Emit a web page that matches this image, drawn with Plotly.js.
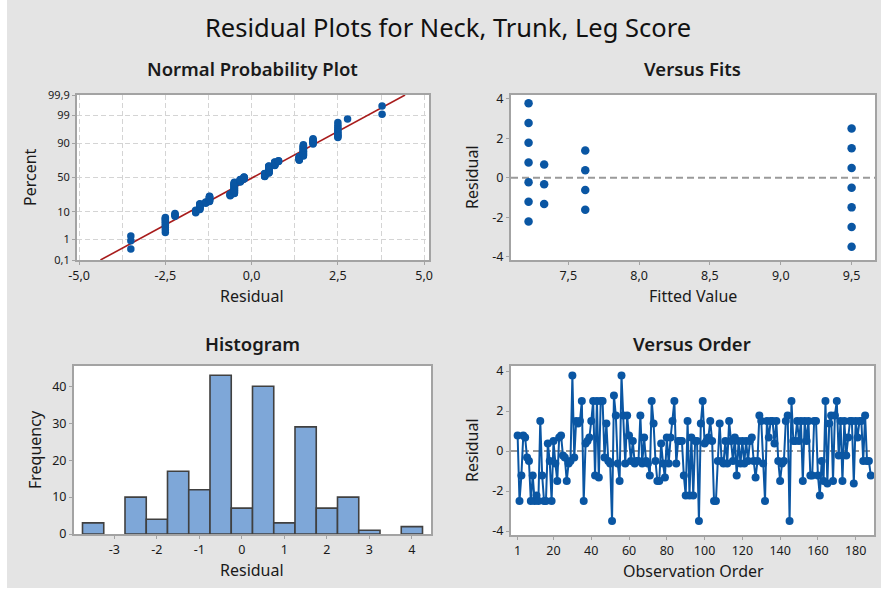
<!DOCTYPE html>
<html><head><meta charset="utf-8">
<script src="https://cdn.plot.ly/plotly-3.0.1.min.js"></script>
<style>html,body{margin:0;padding:0;background:#ffffff;} #chart{width:881px;height:592px;}</style>
</head><body><div id="chart"></div>
<script>
// ---------------- DATA ----------------
const mainTitle = "Residual Plots for Neck, Trunk, Leg Score";
// distinct residual levels, how many observations have each, and the fitted value they belong to
const residualLevels = [-3.5,-2.5,-2.22,-1.62,-1.5,-1.33,-1.22,-0.62,-0.5,-0.33,-0.22,0.38,0.5,0.67,0.78,1.38,1.5,1.78,2.5,2.78,3.78];
const levelCounts    = [3,10,4,4,10,3,12,5,30,8,7,10,20,10,3,9,20,7,10,1,2];
const levelFitted    = [9.5,9.5,7.22,7.62,9.5,7.33,7.22,7.62,9.5,7.33,7.22,7.62,9.5,7.33,7.22,7.62,9.5,7.22,9.5,7.22,7.22];
// residuals in observation order (1..188)
const orderResiduals = [
 0.78,-2.5,-1.22,0.78,0.67,-0.33,-0.5,-2.5,-1.22,-2.5,
 -2.22,-2.5,1.5,-1.22,-2.5,-2.5,0.38,-0.5,-2.5,0.5,
 -0.62,-1.5,0.67,0.78,-0.22,-0.33,-1.5,-0.62,-0.5,3.78,
 -0.33,1.5,1.38,1.5,2.5,-2.5,0.38,0.5,0.67,1.5,
 2.5,-1.22,2.5,-1.33,2.5,2.5,-0.33,1.38,-0.5,-0.62,
 -3.5,2.78,1.78,-0.62,-1.5,3.78,1.78,-0.62,1.78,0.78,
 -0.5,0.5,-0.62,-0.5,-0.5,1.78,-0.62,0.67,-0.5,-0.62,
 -1.22,2.5,1.38,-0.5,-1.5,-1.5,0.38,-0.62,-1.33,0.67,
 -0.62,0.67,1.5,2.5,-0.62,0.5,0.5,0.5,-1.22,-2.22,
 1.5,-2.22,0.67,-2.22,0.5,0.5,-3.5,1.38,2.5,0.38,
 0.5,0.67,1.5,0.5,-2.5,-2.5,-0.5,1.38,-0.5,-0.62,
 0.5,-0.62,1.5,0.5,-0.5,0.67,-1.22,0.5,-0.62,0.5,
 -0.62,0.5,-0.5,0.5,0.67,-0.5,-1.33,-0.5,1.78,1.5,
 -0.62,-2.5,1.5,0.67,1.5,1.5,0.38,1.5,-0.5,-1.5,
 -0.62,-0.5,1.5,1.78,-3.5,2.5,0.5,0.5,1.5,0.5,
 1.5,-1.5,1.5,0.5,1.5,-1.22,-1.22,1.5,1.5,-1.22,
 -2.22,-0.5,-1.5,2.5,-1.62,1.38,1.78,-1.5,1.78,2.5,
 -0.22,1.5,-1.5,1.5,-0.22,0.67,1.5,1.5,-1.62,1.5,
 0.67,1.5,1.5,-0.5,1.78,-0.5,-0.5,-1.22];
const probTickPercents = [0.1,1,10,50,90,99,99.9];
const probTickText = ["0,1","1","10","50","90","99","99,9"];
const resTickVals = [-5,-2.5,0,2.5,5];
const resTickText = ["-5,0","-2,5","0,0","2,5","5,0"];
const fitTickVals = [7.5,8,8.5,9,9.5];
const fitTickText = ["7,5","8,0","8,5","9,0","9,5"];
const histTickVals = [-3,-2,-1,0,1,2,3,4];
const histTickText = ["-3","-2","-1","0","1","2","3","4"];
const histYTicks = [0,10,20,30,40];
const resYTicks = [-4,-2,0,2,4];
const resYText = ["-4","-2","0","2","4"];
const orderTickVals = [1,20,40,60,80,100,120,140,160,180];

// ---------------- HELPERS ----------------
function invNorm(p){
  const a=[-3.969683028665376e+01,2.209460984245205e+02,-2.759285104469687e+02,1.383577518672690e+02,-3.066479806614716e+01,2.506628277459239e+00];
  const b=[-5.447609879822406e+01,1.615858368580409e+02,-1.556989798598866e+02,6.680131188771972e+01,-1.328068155288572e+01];
  const c=[-7.784894002430293e-03,-3.223964580411365e-01,-2.400758277161838e+00,-2.549732539343734e+00,4.374664141464968e+00,2.938163982698783e+00];
  const d=[7.784695709041462e-03,3.224671290700398e-01,2.445134137142996e+00,3.754408661907416e+00];
  const pl=0.02425, ph=1-pl; let q,r;
  if(p<pl){q=Math.sqrt(-2*Math.log(p));return (((((c[0]*q+c[1])*q+c[2])*q+c[3])*q+c[4])*q+c[5])/((((d[0]*q+d[1])*q+d[2])*q+d[3])*q+1);}
  if(p<=ph){q=p-0.5;r=q*q;return (((((a[0]*r+a[1])*r+a[2])*r+a[3])*r+a[4])*r+a[5])*q/(((((b[0]*r+b[1])*r+b[2])*r+b[3])*r+b[4])*r+1);}
  q=Math.sqrt(-2*Math.log(1-p));return -(((((c[0]*q+c[1])*q+c[2])*q+c[3])*q+c[4])*q+c[5])/((((d[0]*q+d[1])*q+d[2])*q+d[3])*q+1);
}
const allRes = [];
residualLevels.forEach((v,i)=>{for(let k=0;k<levelCounts[i];k++) allRes.push(v);});
allRes.sort((a,b)=>a-b);
const n = allRes.length;
const probZ = allRes.map((v,i)=>invNorm((i+1-0.3)/(n+0.4)));
const mean = allRes.reduce((s,v)=>s+v,0)/n;
const sd = Math.sqrt(allRes.reduce((s,v)=>s+(v-mean)*(v-mean),0)/(n-1));
const zLo = invNorm(0.001), zHi = invNorm(0.999);
const orderX = orderResiduals.map((v,i)=>i+1);

// ---------------- LAYOUT GEOMETRY (pixels) ----------------
const W=881,H=592;
const px=v=>v/W, py=v=>1-v/H;
const FONT="Noto Sans, Open Sans, sans-serif";
const BLUE="#0a56a3", GRID="#d4d4d4", FRAME="#a3a3a3", TXT="#1a1a1a";

function axisBase(extra){
  return Object.assign({showline:true,mirror:true,linecolor:FRAME,linewidth:2,ticks:"outside",ticklen:3,
    tickcolor:FRAME,tickwidth:1,showgrid:false,zeroline:false,tickmode:"array",ticklabelstandoff:0,
    tickfont:{family:FONT,size:12.5,color:TXT},fixedrange:true},extra);
}

const traces = [
  {type:"scatter",mode:"lines",x:[mean+sd*zLo,mean+sd*zHi],y:[zLo,zHi],xaxis:"x",yaxis:"y",
   line:{color:"#a81c1c",width:1.6},hoverinfo:"skip"},
  {type:"scatter",mode:"markers",x:allRes,y:probZ,xaxis:"x",yaxis:"y",
   marker:{color:BLUE,size:7.5}},
  {type:"scatter",mode:"markers",x:levelFitted,y:residualLevels,xaxis:"x2",yaxis:"y2",
   marker:{color:BLUE,size:8.5}},
  {type:"histogram",x:allRes,xaxis:"x3",yaxis:"y3",xbins:{start:-3.75,end:4.25,size:0.5},
   marker:{color:"#7ea7d8",line:{color:"#404040",width:1.6}}},
  {type:"scatter",mode:"lines+markers",x:orderX,y:orderResiduals,xaxis:"x4",yaxis:"y4",
   line:{color:BLUE,width:2},marker:{color:BLUE,size:8}}
];

function ann(text,x,y,size,opts){
  return Object.assign({text:text,xref:"paper",yref:"paper",x:px(x),y:py(y),showarrow:false,
    xanchor:"center",yanchor:"middle",font:{family:FONT,size:size,color:TXT}},opts||{});
}
const subFont={family:FONT,size:18.5,color:TXT,weight:600};

const layout = {
  width:W,height:H,margin:{l:0,r:0,t:0,b:0},paper_bgcolor:"#e4e4e4",plot_bgcolor:"#ffffff",
  showlegend:false,bargap:0,
  xaxis:axisBase({anchor:"y",domain:[px(77),px(429)],range:[-5.06,5.14],tickvals:resTickVals,ticktext:resTickText,
    showgrid:true,gridcolor:GRID,griddash:"5px,3px",
    minor:{tickmode:"array",tickvals:[-3.75,-1.25,1.25,3.75],showgrid:true,gridcolor:GRID,griddash:"5px,3px",ticklen:0}}),
  yaxis:axisBase({anchor:"x",domain:[py(260),py(95)],range:[zLo,zHi],tickvals:probTickPercents.map(p=>invNorm(p/100)),
    ticktext:probTickText,showgrid:true,gridcolor:GRID,griddash:"5px,3px",tickfont:{family:FONT,size:11,color:TXT}}),
  xaxis2:axisBase({anchor:"y2",domain:[px(511),px(875)],range:[7.096,9.665],tickvals:fitTickVals,ticktext:fitTickText}),
  yaxis2:axisBase({anchor:"x2",domain:[py(260),py(95)],range:[-4.17,4.2],tickvals:resYTicks,ticktext:resYText}),
  xaxis3:axisBase({anchor:"y3",domain:[px(74),px(431)],range:[-3.95,4.45],tickvals:histTickVals,ticktext:histTickText}),
  yaxis3:axisBase({anchor:"x3",domain:[py(534),py(366)],range:[0,45.5],tickvals:histYTicks}),
  xaxis4:axisBase({anchor:"y4",domain:[px(511),px(874)],range:[-2.5,189.7],tickvals:orderTickVals}),
  yaxis4:axisBase({anchor:"x4",domain:[py(535),py(366)],range:[-4.2,4.25],tickvals:resYTicks,ticktext:resYText}),
  shapes:[
    {type:"line",xref:"x2 domain",yref:"y2",x0:0,x1:1,y0:0,y1:0,line:{color:"#9a9a9a",width:2,dash:"7px,4px"},layer:"below"},
    {type:"line",xref:"x4 domain",yref:"y4",x0:0,x1:1,y0:0,y1:0,line:{color:"#9a9a9a",width:2,dash:"7px,4px"},layer:"below"},
    {type:"rect",xref:"paper",yref:"paper",x0:0,x1:px(7),y0:0,y1:1,fillcolor:"#ffffff",line:{width:0},layer:"below"},
    {type:"rect",xref:"paper",yref:"paper",x0:0,x1:1,y0:0,y1:1-588/H,fillcolor:"#ffffff",line:{width:0},layer:"below"}
  ],
  annotations:[
    ann(mainTitle,448,27,25.5,{font:{family:FONT,size:25.5,color:"#111"}}),
    ann("Normal Probability Plot",252,68,18.5,{font:subFont}),
    ann("Versus Fits",692,68,18.5,{font:subFont}),
    ann("Histogram",252,343,18.5,{font:subFont}),
    ann("Versus Order",692,343,18.5,{font:subFont}),
    ann("Residual",252,296,16),
    ann("Fitted Value",693,296,16),
    ann("Residual",252,570,16),
    ann("Observation Order",693,571,16),
    ann("Percent",30,177,16,{textangle:-90}),
    ann("Residual",472,177,16,{textangle:-90}),
    ann("Frequency",35,450,16,{textangle:-90}),
    ann("Residual",472,450,16,{textangle:-90})
  ]
};
Plotly.newPlot("chart",traces,layout,{displayModeBar:false,staticPlot:true});
</script></body></html>
